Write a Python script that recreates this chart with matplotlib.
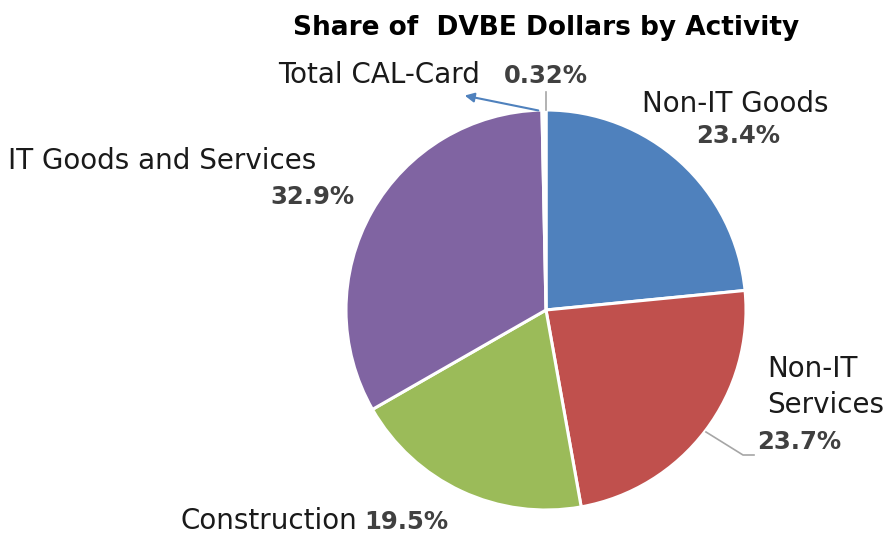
import matplotlib
matplotlib.use("Agg")
import matplotlib.pyplot as plt

# slice data, clockwise from 12 o'clock
labels = ["Non-IT Goods", "Non-IT Services", "Construction",
          "IT Goods and Services", "Total CAL-Card"]
shares = [23.4, 23.7, 19.5, 32.9, 0.32]
pct_text = ["23.4%", "23.7%", "19.5%", "32.9%", "0.32%"]
colors = ["#4F81BD", "#C0504D", "#9BBB59", "#8064A2", "#FFFFFF"]

W, H = 885, 537
fig = plt.figure(figsize=(W / 100, H / 100), dpi=100)
ax = fig.add_axes([0, 0, 1, 1])

def py(y):
    # pixel row -> data y
    return H - y

ax.pie(shares, colors=colors, startangle=90, counterclock=False,
       center=(546, py(310)), radius=200, frame=True,
       wedgeprops=dict(edgecolor="white", linewidth=2.2))
ax.set_xlim(0, W)
ax.set_ylim(0, H)
ax.set_aspect("equal")
ax.axis("off")

fam = ["DejaVu Sans"]
lab = dict(fontsize=20, color="#1a1a1a", family=fam)
pct = dict(fontsize=17.5, color="#404040", fontweight="bold", family=fam)

ax.text(546, py(28), "Share of  DVBE Dollars by Activity", ha="center", va="center",
        fontsize=19, fontweight="bold", color="black", family=fam)

# Total CAL-Card
ax.text(278, py(75), labels[4], ha="left", va="center", **lab)
ax.text(588, py(76), pct_text[4], ha="right", va="center", **pct)
ax.plot([546, 546], [py(92), py(110)], color="#a6a6a6", lw=1.2)
ax.annotate("", xy=(462, py(95)), xytext=(541, py(111)),
            arrowprops=dict(arrowstyle="-|>", color="#4F81BD", lw=1.5,
                            mutation_scale=14))

# Non-IT Goods
ax.text(642, py(104), labels[0], ha="left", va="center", **lab)
ax.text(780, py(136), pct_text[0], ha="right", va="center", **pct)

# Non-IT Services
ax.text(767, py(369), "Non-IT", ha="left", va="center", **lab)
ax.text(767, py(405), "Services", ha="left", va="center", **lab)
ax.text(757, py(442), pct_text[1], ha="left", va="center", **pct)
ax.plot([706, 743, 754], [py(432), py(455), py(455)], color="#a6a6a6", lw=1.2)

# Construction
ax.text(180, py(521), labels[2], ha="left", va="center", **lab)
ax.text(448, py(522), pct_text[2], ha="right", va="center", **pct)

# IT Goods and Services
ax.text(8, py(161), labels[3], ha="left", va="center", **lab)
ax.text(355, py(197), pct_text[3], ha="right", va="center", **pct)

fig.savefig("out.png", dpi=100)
